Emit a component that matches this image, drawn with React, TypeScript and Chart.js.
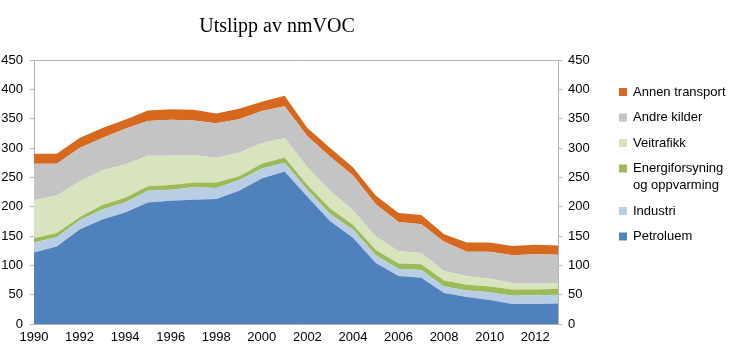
import React, { useEffect, useRef } from "react";
import { Chart, registerables } from "chart.js";

Chart.register(...registerables);

const years = [
  "1990", "1991", "1992", "1993", "1994", "1995", "1996", "1997", "1998", "1999", "2000", "2001",
  "2002", "2003", "2004", "2005", "2006", "2007", "2008", "2009", "2010", "2011", "2012", "2013",
];

const petroleum = [122, 132, 161, 178, 190, 207, 210, 212, 213, 227, 248, 260, 217, 175, 147, 104, 82, 79, 53, 46, 41, 34, 34, 35];
const industri = [17, 16, 16, 17, 17, 20, 19, 21, 19, 18, 17, 15, 12, 12, 14, 13, 12, 13, 11, 11, 13, 14, 15, 15];
const energiforsyning = [7, 7, 5, 8, 8, 8, 8, 8, 9, 7, 8, 9, 8, 10, 8, 9, 9, 10, 10, 10, 10, 11, 10, 10];
const veitrafikk = [65, 64, 61, 59, 57, 52, 50, 47, 42, 40, 35, 33, 30, 30, 25, 23, 21, 19, 16, 15, 13, 11, 10, 10];
const andreKilder = [62, 54, 57, 55, 61, 59, 61, 59, 59, 57, 55, 54, 53, 58, 59, 55, 50, 49, 50, 41, 46, 47, 50, 48];
const annenTransport = [17, 17, 17, 17, 15, 18, 18, 18, 17, 18, 16, 18, 14, 15, 14, 15, 15, 16, 13, 16, 16, 16, 16, 16];

const seriesLabels = ["Petroluem", "Industri", "Energiforsyning\nog oppvarming", "Veitrafikk", "Andre kilder", "Annen transport"];
const seriesColors = ["#4F81BD", "#B9CDE5", "#9BBB59", "#D7E4BD", "#C4C4C4", "#D7691F"];
const seriesValues = [petroleum, industri, energiforsyning, veitrafikk, andreKilder, annenTransport];

const yTicks = { min: 0, max: 450, step: 50 };

const FONT = "'Liberation Sans', Arial, sans-serif";
const AXIS_COLOR = "#B3B3B3";

export default function App() {
  const ref = useRef<HTMLCanvasElement | null>(null);

  useEffect(() => {
    document.body.style.margin = "0";
    const canvas = ref.current;
    if (!canvas) return;

    const titlePlugin = {
      id: "customTitleLegend",
      afterDraw(chart: any) {
        const ctx = chart.ctx;
        const area = chart.chartArea;
        ctx.save();
        // Title
        ctx.fillStyle = "#000";
        ctx.font = "20px 'Liberation Serif', 'Times New Roman', serif";
        ctx.textAlign = "center";
        ctx.textBaseline = "alphabetic";
        ctx.fillText("Utslipp av nmVOC", area.right / 2 - 2, 32);

        // Legend (reverse dataset order)
        ctx.font = "13px " + FONT;
        ctx.textAlign = "left";
        ctx.textBaseline = "middle";
        let y = 92;
        const ds = chart.data.datasets;
        for (let i = ds.length - 1; i >= 0; i--) {
          const lines = String(ds[i].label).split("\n");
          ctx.fillStyle = ds[i].backgroundColor;
          ctx.fillRect(619, y - 4, 8, 8);
          ctx.fillStyle = "#000";
          lines.forEach((ln: string, k: number) => {
            ctx.fillText(ln, 633, y + k * 17);
          });
          y += (lines.length - 1) * 17 + 25.5;
        }
        ctx.restore();
      },
    };

    const chart = new Chart(canvas, {
      type: "line",
      data: {
        labels: years,
        datasets: seriesValues.map((vals, i) => ({
          label: seriesLabels[i],
          data: vals,
          backgroundColor: seriesColors[i],
          borderColor: seriesColors[i],
          borderWidth: 0,
          pointRadius: 0,
          fill: i === 0 ? "origin" : "-1",
          tension: 0,
        })),
      },
      options: {
        responsive: false,
        animation: false,
        events: [],
        layout: { padding: { top: 60, left: 0, right: 0, bottom: 0 } },
        plugins: {
          legend: { display: false },
          title: { display: false },
          tooltip: { enabled: false },
        },
        scales: {
          x: {
            type: "category",
            offset: false,
            grid: { display: true, color: "transparent", drawTicks: false },
            border: { display: true, color: AXIS_COLOR, width: 1 },
            ticks: {
              autoSkip: false,
              maxRotation: 0,
              minRotation: 0,
              padding: 6,
              color: "#000",
              font: { family: FONT, size: 13 },
              callback: (_v: any, idx: number) => (idx % 2 === 0 ? years[idx] : ""),
            },
            afterFit: (s: any) => {
              s.height = 40;
            },
          },
          y: {
            type: "linear",
            position: "left",
            stacked: true,
            min: yTicks.min,
            max: yTicks.max,
            ticks: {
              stepSize: yTicks.step,
              padding: 7,
              color: "#000",
              font: { family: FONT, size: 13 },
            },
            grid: {
              drawOnChartArea: true,
              color: (c: any) => (c.tick && c.tick.value === yTicks.max ? AXIS_COLOR : "transparent"),
              tickColor: AXIS_COLOR,
              tickLength: 4,
            },
            border: { display: true, color: AXIS_COLOR, width: 1 },
            afterFit: (s: any) => {
              s.width = 34;
            },
          },
          y2: {
            type: "linear",
            position: "right",
            min: yTicks.min,
            max: yTicks.max,
            ticks: {
              stepSize: yTicks.step,
              padding: 6,
              color: "#000",
              font: { family: FONT, size: 13 },
            },
            grid: {
              drawOnChartArea: false,
              tickColor: AXIS_COLOR,
              tickLength: 4,
            },
            border: { display: true, color: AXIS_COLOR, width: 1 },
            afterFit: (s: any) => {
              s.width = 172;
            },
          },
        },
      },
      plugins: [titlePlugin],
    } as any);

    return () => chart.destroy();
  }, []);

  return <canvas ref={ref} width={730} height={364} style={{ display: "block" }} />;
}
